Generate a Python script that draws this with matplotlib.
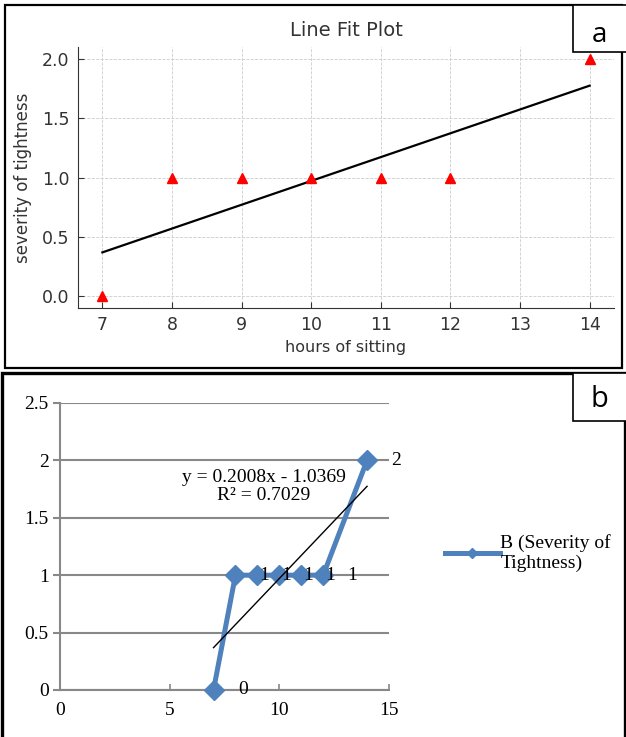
import matplotlib.pyplot as plt
from matplotlib.patches import Rectangle
import numpy as np

# data
hours = [7, 8, 9, 10, 11, 12, 14]
severity = [0, 1, 1, 1, 1, 1, 2]
slope = 0.2008
intercept = -1.0369
r_squared = 0.7029
series_name = "B (Severity of\nTightness)"

fig = plt.figure(figsize=(6.26, 7.37), dpi=100)

# ---------------- panel a ----------------
gray = '#333333'
ax1 = fig.add_axes([0.1246, 0.5821, 0.8562, 0.3541])
fit_x = np.array([hours[0], hours[-1]])
ax1.plot(hours, severity, '^', color='red', markersize=7, zorder=3)
ax1.plot(fit_x, slope * fit_x + intercept, color='k', lw=1.6, zorder=2)
ax1.set_xlim(6.65, 14.35)
ax1.set_ylim(-0.1, 2.1)
ax1.set_xticks(range(7, 15))
ax1.set_yticks([0.0, 0.5, 1.0, 1.5, 2.0])
ax1.set_yticklabels(['0.0', '0.5', '1.0', '1.5', '2.0'])
ax1.grid(True, ls='--', lw=0.6, color='#cccccc')
ax1.set_axisbelow(True)
ax1.spines['top'].set_visible(False)
ax1.spines['right'].set_visible(False)
for s in ['left', 'bottom']:
    ax1.spines[s].set_color(gray)
ax1.tick_params(direction='in', length=4, colors=gray, labelsize=12.5, pad=6)
ax1.set_title('Line Fit Plot', fontsize=14, color=gray, pad=8)
ax1.set_xlabel('hours of sitting', fontsize=11.5, color=gray, labelpad=4)
ax1.set_ylabel('severity of tightness', fontsize=12, color=gray, labelpad=7)

# ---------------- panel b ----------------
blue = '#4F81BD'
grid_gray = '#888888'
serif = 'Liberation Serif'
fs = 14
ax2 = fig.add_axes([0.0958, 0.0638, 0.5256, 0.3894])
ax2.plot(hours, severity, '-D', color=blue, lw=3.6, markersize=10,
         label=series_name, zorder=3, clip_on=False)
ax2.plot(fit_x, slope * fit_x + intercept, color='k', lw=1.0, zorder=4)
for xv, yv in zip(hours, severity):
    ax2.annotate(str(yv), (xv, yv), xytext=(21, 0), textcoords='offset points',
                 ha='center', va='center', fontsize=fs, family=serif, zorder=5)
ax2.text(9.3, 1.77, 'y = %.4fx - %.4f\nR² = %.4f' % (slope, -intercept, r_squared),
         ha='center', va='center', fontsize=fs, family=serif, linespacing=1.05)
ax2.set_xlim(0, 15)
ax2.set_ylim(0, 2.5)
ax2.set_xticks([0, 5, 10, 15])
ax2.set_yticks([0, 0.5, 1, 1.5, 2, 2.5])
ax2.set_yticklabels(['0', '0.5', '1', '1.5', '2', '2.5'])
ax2.grid(True, axis='y', color=grid_gray, lw=1.5)
ax2.set_axisbelow(True)
ax2.spines['top'].set_visible(False)
ax2.spines['right'].set_visible(False)
ax2.spines['left'].set_color(grid_gray)
ax2.spines['bottom'].set_color(grid_gray)
ax2.spines['left'].set_linewidth(1.5)
ax2.spines['bottom'].set_linewidth(1.5)
ax2.tick_params(axis='y', direction='out', length=5, width=1.5, color=grid_gray, pad=3)
ax2.tick_params(axis='x', direction='in', length=4, width=1.2, color=grid_gray, pad=9)
for lab in ax2.get_xticklabels() + ax2.get_yticklabels():
    lab.set_family(serif)
    lab.set_fontsize(fs)
ax2.legend(loc='center left', bbox_to_anchor=(0.683, 0.2495), bbox_transform=fig.transFigure,
           frameon=False, prop={'family': serif, 'size': fs}, handlelength=2.8,
           handletextpad=0.05, markerscale=0.55, labelspacing=0.2)

# frames and panel letters
fig.add_artist(Rectangle((0.008, 0.5007), 0.986, 0.4925, transform=fig.transFigure,
                         fill=False, ec='k', lw=1.6))
fig.add_artist(Rectangle((0.003, -0.01), 0.995, 0.504, transform=fig.transFigure,
                         fill=False, ec='k', lw=2.4))
fig.add_artist(Rectangle((0.915, 0.9294), 0.09, 0.0638, transform=fig.transFigure,
                         fill=True, fc='white', ec='k', lw=1.2))
fig.add_artist(Rectangle((0.916, 0.4287), 0.09, 0.0650, transform=fig.transFigure,
                         fill=True, fc='white', ec='k', lw=1.2))
fig.text(0.957, 0.953, 'a', fontsize=20, family='Open Sans', ha='center', va='center')
fig.text(0.957, 0.458, 'b', fontsize=21, family='Open Sans', ha='center', va='center')

plt.savefig('out.png', dpi=100)
